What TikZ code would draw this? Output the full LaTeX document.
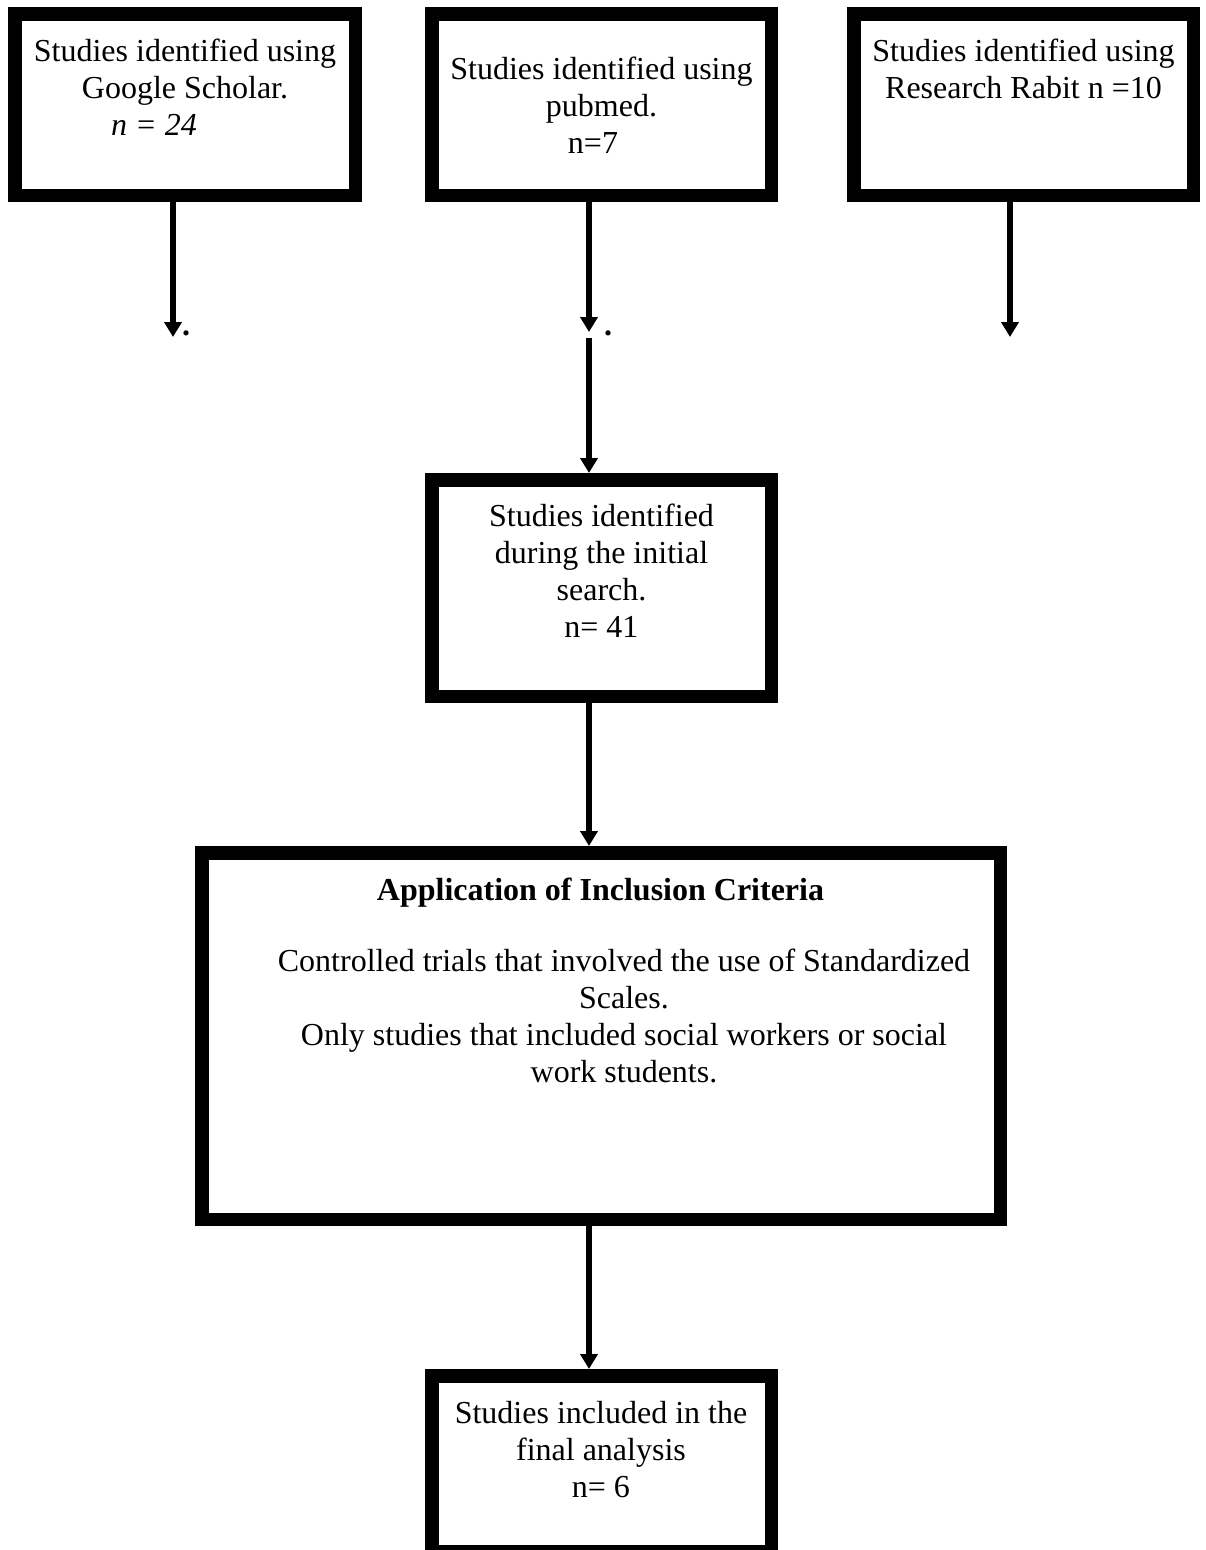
\documentclass[tikz,border=0pt]{standalone}
\usepackage{fontspec}
\setmainfont{Liberation Serif}
\usetikzlibrary{arrows.meta}
\begin{document}
\begin{tikzpicture}[x=1pt,y=-1pt,
  box/.style={draw=black,line width=13.5pt,inner sep=0pt,outer sep=0pt},
  txt/.style={font=\fontsize{32}{37}\selectfont,inner sep=0pt,align=center,anchor=base},
  arr/.style={line width=5.5pt,-{Triangle[length=15pt,width=17pt]}},
  dotmark/.style={font=\fontsize{32}{37}\selectfont\bfseries,inner sep=0pt,anchor=base west}]
\useasboundingbox[fill=white] (0,0) rectangle (1205,1550);
% boxes
\node[box,minimum width=340.5pt,minimum height=181.5pt] (b1) at (185,104.5) {};
\node[box,minimum width=339.5pt,minimum height=181.5pt] (b2) at (601.5,104.5) {};
\node[box,minimum width=339.5pt,minimum height=181.5pt] (b3) at (1023.5,104.5) {};
\node[box,minimum width=339.5pt,minimum height=216.5pt] (b4) at (601.5,588) {};
\node[box,minimum width=798.5pt,minimum height=366.5pt] (b5) at (601,1036) {};
\node[box,minimum width=339.5pt,minimum height=176pt] (b6) at (601.5,1463.75) {};
% texts (base anchor = baseline of last line)
\node[txt] (t1) at (185,98) {Studies identified using\\Google Scholar.};
\node[txt,anchor=base west] (t1n) at (111,135) {\textit{n = 24}};
\node[txt] (t2) at (601.5,116) {Studies identified using\\pubmed.};
\node[txt] (t2n) at (593,153) {n=7};
\node[txt] (t3) at (1023.5,98) {Studies identified using\\Research Rabit n =10};
\node[txt] (t4) at (601.5,637) {Studies identified\\during the initial\\search.\\n= 41};
\node[txt] (t5h) at (600.5,900) {\textbf{Application of Inclusion Criteria}};
\node[txt] (t5) at (624,1082) {Controlled trials that involved the use of Standardized\\Scales.\\Only studies that included social workers or social\\work students.};
\node[txt] (t6) at (601,1497) {Studies included in the\\final analysis\\n= 6};
% arrow end points
\coordinate (e1) at (173,337);
\coordinate (e2) at (589,332);
\coordinate (s2) at (589,338);
\coordinate (e3) at (1010,337);
\coordinate (c) at (589,0);
\node[dotmark] (d1) at (182,335) {.};
\node[dotmark] (d2) at (604,335) {.};
% connectors
\draw[arr] (e1 |- b1.south) -- (e1);
\draw[arr] (e2 |- b2.south) -- (e2);
\draw[arr] (e3 |- b3.south) -- (e3);
\draw[arr,shorten >=6.75pt] (s2) -- (s2 |- b4.north);
\draw[arr,shorten >=6.75pt] (c |- b4.south) -- (c |- b5.north);
\draw[arr,shorten >=6.75pt] (c |- b5.south) -- (c |- b6.north);
\end{tikzpicture}
\end{document}
